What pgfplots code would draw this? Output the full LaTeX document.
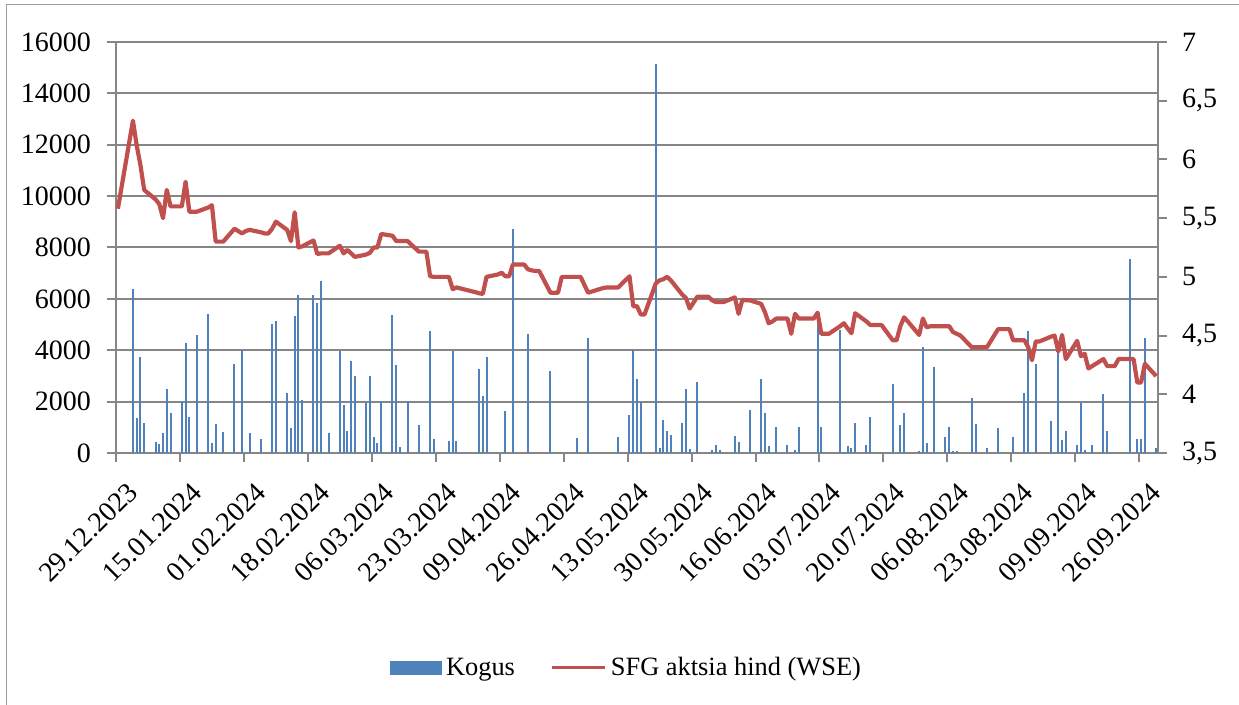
\documentclass[border=0pt]{standalone}
\usepackage{fontspec}
\setmainfont{Liberation Serif}
\usepackage{pgfplots}
\pgfplotsset{compat=1.18}
\usepackage{pgfplotstable}

\definecolor{barblue}{HTML}{4F81BD}
\definecolor{linered}{HTML}{C0504D}
\definecolor{axgray}{HTML}{868686}

% day 0 = 29.12.2023
\pgfplotstableread{
d v
4 6385
5 1350
6 3725
7 1155
10 440
11 350
12 765
13 2480
14 1545
17 1985
18 4270
19 1415
21 4580
24 5400
25 400
26 1130
28 805
31 3450
33 4010
35 765
38 545
41 5010
42 5140
45 2325
46 990
47 5330
48 6140
49 2065
52 6140
53 5825
54 6680
56 765
59 3985
60 1880
61 870
62 3595
63 3000
66 1960
67 3000
68 635
69 380
70 2010
73 5370
74 3410
75 245
77 2010
80 1080
81 50
83 4760
84 560
88 480
89 3985
90 470
96 3255
97 2220
98 3725
103 1650
105 8710
109 4630
115 3205
122 600
125 4465
133 610
136 1480
137 4010
138 2870
139 2000
143 15140
144 180
145 1285
146 870
147 700
150 1180
151 2480
152 140
154 2750
158 100
159 310
160 120
164 660
165 440
168 1675
171 2870
172 1545
173 280
175 1000
178 310
180 100
181 1025
186 5050
187 1000
192 4790
193 40
194 285
195 180
196 1180
199 310
200 1390
206 2675
208 1100
209 1545
213 60
214 4140
215 390
217 3335
220 610
221 1000
222 60
223 60
227 2150
228 1140
231 205
234 975
238 620
241 2345
242 4750
244 3475
248 1245
250 3985
251 505
252 855
255 325
256 1960
257 100
259 310
262 2295
263 870
269 7550
271 545
272 545
273 4465
276 200
}\volumes

\pgfplotstableread{
d p
0 5.58
4 6.33
5 6.12
6 5.95
7 5.74
10 5.66
11 5.62
12 5.50
13 5.74
14 5.60
17 5.60
18 5.81
19 5.555
20 5.555
21 5.555
24 5.59
25 5.61
26 5.30
27 5.30
28 5.30
31 5.41
32 5.39
33 5.37
34 5.39
35 5.40
38 5.38
39 5.37
40 5.37
41 5.41
42 5.47
45 5.40
46 5.305
47 5.55
48 5.25
49 5.26
52 5.31
53 5.195
54 5.20
55 5.20
56 5.20
59 5.265
60 5.20
61 5.23
62 5.20
63 5.17
66 5.19
67 5.205
68 5.25
69 5.25
70 5.365
73 5.35
74 5.305
75 5.305
76 5.305
77 5.305
80 5.215
81 5.215
82 5.215
83 5.005
84 5.0
87 5.0
88 5.0
89 4.895
90 4.91
95 4.87
96 4.86
97 4.855
98 5.0
101 5.02
102 5.035
103 5.005
104 5.005
105 5.105
108 5.105
109 5.065
110 5.055
111 5.05
112 5.05
115 4.865
116 4.865
117 4.865
118 5.0
119 5.0
122 5.0
123 5.0
125 4.865
129 4.905
130 4.91
131 4.91
132 4.91
133 4.91
136 5.005
137 4.75
138 4.75
139 4.68
140 4.68
143 4.945
144 4.97
145 4.98
146 5.0
147 4.97
150 4.85
151 4.82
152 4.73
153 4.78
154 4.83
155 4.83
157 4.83
158 4.80
159 4.785
160 4.785
161 4.785
164 4.825
165 4.685
166 4.805
167 4.80
168 4.80
171 4.77
172 4.70
173 4.605
174 4.62
175 4.645
178 4.645
179 4.515
180 4.685
181 4.645
182 4.645
185 4.645
186 4.695
187 4.515
188 4.515
189 4.515
192 4.58
193 4.605
194 4.56
195 4.52
196 4.69
199 4.62
200 4.59
201 4.59
202 4.59
203 4.59
206 4.46
207 4.46
208 4.58
209 4.655
210 4.62
213 4.505
214 4.645
215 4.57
216 4.58
217 4.58
220 4.58
221 4.58
222 4.53
223 4.515
224 4.50
227 4.40
228 4.40
229 4.40
230 4.40
231 4.40
234 4.555
235 4.555
236 4.555
237 4.555
238 4.46
241 4.46
242 4.40
243 4.29
244 4.45
245 4.45
248 4.49
249 4.50
250 4.365
251 4.505
252 4.30
255 4.455
256 4.325
257 4.345
258 4.22
259 4.24
262 4.30
263 4.24
264 4.24
265 4.24
266 4.30
269 4.30
270 4.30
271 4.10
272 4.10
273 4.26
276 4.155
}\prices

\pgfplotsset{
  base/.style={
    at={(58bp,126bp)}, anchor=south west,
    width=521bp, height=205.5bp, scale only axis,
    xmin=-0.5, xmax=276.5,
    tick align=outside,
    major tick length=4.5bp,
    every tick/.style={axgray, line width=1bp},
    axis line style={axgray, line width=1.3bp},
    tick label style={font=\fontsize{14bp}{16bp}\selectfont,
      /pgf/number format/assume math mode=true},
  },
}

\begin{document}
\begin{tikzpicture}
\useasboundingbox (0,0) rectangle (619.5bp,352.5bp);
\draw[axgray!80, line width=0.6bp] (3.35bp,-2bp) -- (3.35bp,350.15bp) -- (622bp,350.15bp);

\begin{axis}[base,
  axis x line*=bottom, axis y line*=left,
  ymin=0, ymax=16000, ytick distance=2000,
  scaled y ticks=false,
  yticklabel style={/pgf/number format/1000 sep={}, xshift=-4.5bp},
  ymajorgrids, grid style={axgray, line width=1bp},
  xtick={-0.5,16.5,...,271.5},
  xticklabels={29.12.2023,15.01.2024,01.02.2024,18.02.2024,06.03.2024,23.03.2024,
    09.04.2024,26.04.2024,13.05.2024,30.05.2024,16.06.2024,03.07.2024,
    20.07.2024,06.08.2024,23.08.2024,09.09.2024,26.09.2024},
  xticklabel style={rotate=45, anchor=east, inner sep=0pt, xshift=-3bp, yshift=-15bp},
]
\addplot[ycomb, barblue, line width=1bp, mark=none] table[x=d, y=v]{\volumes};
\end{axis}

\begin{axis}[base,
  axis x line=none, axis y line*=right,
  ymin=3.5, ymax=7, ytick={3.5,4,...,7},
  yticklabel style={/pgf/number format/use comma, /pgf/number format/fixed, xshift=4bp},
  legend style={at={(0.491,-0.523)}, anchor=center, draw=none, fill=none,
    font=\fontsize{13.2bp}{15bp}\selectfont},
  legend columns=2,
  legend cell align=left,
  /tikz/every even column/.append style={column sep=16bp},
]
\addlegendimage{legend image code/.code={\fill[barblue] (0bp,-3.2bp) rectangle (25.5bp,3.2bp);}}
\addlegendentry{Kogus}
\addplot[linered, line width=2.1bp, line join=round, mark=none,
  legend image code/.code={\draw[linered, line width=1.5bp] (0bp,0bp) -- (26.5bp,0bp);}]
  table[x=d, y=p]{\prices};
\addlegendentry{SFG aktsia hind (WSE)}
\end{axis}
\end{tikzpicture}
\end{document}
